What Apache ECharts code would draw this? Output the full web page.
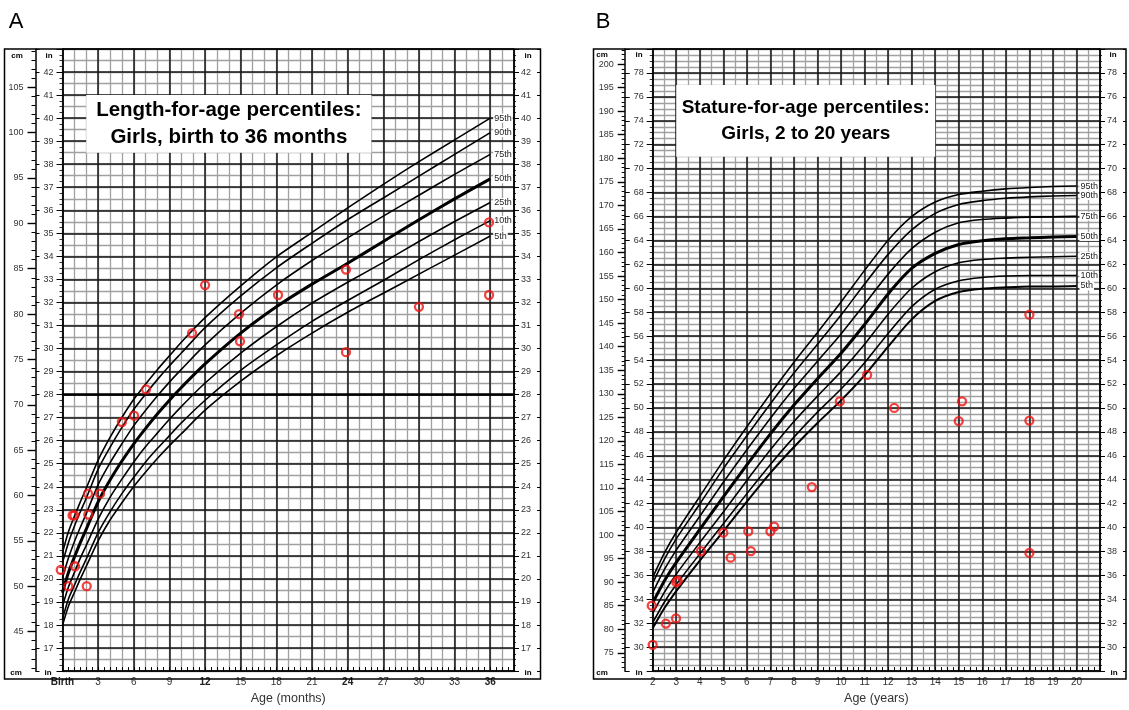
<!DOCTYPE html>
<html>
<head>
<meta charset="utf-8">
<script src="https://cdn.jsdelivr.net/npm/echarts@6/dist/echarts.min.js"></script>
<style>
  html, body { margin: 0; padding: 0; background: #fff; }
  #main { width: 1129px; height: 710px; }
</style>
</head>
<body>
<div id="main"></div>
<script>
const CM_PER_IN = 2.54

// --- A: length-for-age, girls, birth to 36 months (cm) ---
const ageA = [0, 0.5, 1, 1.5, 2, 3, 4, 5, 6, 7, 8, 9, 10, 12, 15, 18, 21, 24, 27, 30, 33, 36]
const p95A = [53.7, 56.0, 57.7, 59.3, 60.8, 63.9, 66.4, 68.6, 70.6, 72.3, 73.9, 75.4, 76.9, 79.6, 83.1, 86.3, 89.0, 91.7, 94.3, 96.8, 99.2, 101.6]
const p90A = [52.6, 54.8, 56.6, 58.2, 59.7, 62.9, 65.3, 67.5, 69.5, 71.2, 72.8, 74.3, 75.7, 78.5, 82.0, 85.1, 87.8, 90.4, 92.8, 95.2, 97.6, 100.0]
const p75A = [50.9, 53.1, 54.9, 56.5, 58.0, 61.2, 63.6, 65.7, 67.7, 69.4, 71.0, 72.5, 73.9, 76.6, 80.1, 83.2, 85.9, 88.4, 90.8, 93.1, 95.4, 97.6]
const p50A = [49.3, 51.5, 53.2, 54.8, 56.3, 59.3, 61.7, 63.8, 65.7, 67.4, 69.0, 70.5, 71.9, 74.5, 77.9, 80.8, 83.3, 85.6, 88.0, 90.4, 92.7, 94.9]
const p25A = [47.8, 49.9, 51.5, 53.1, 54.5, 57.4, 59.8, 61.8, 63.7, 65.4, 66.9, 68.4, 69.8, 72.4, 75.7, 78.6, 81.2, 83.5, 85.7, 88.0, 90.2, 92.3]
const p10A = [46.4, 48.6, 50.1, 51.6, 53.0, 55.9, 58.2, 60.2, 62.0, 63.7, 65.2, 66.6, 68.0, 70.5, 73.8, 76.6, 79.2, 81.5, 83.7, 86.0, 88.2, 90.3]
const p5A = [45.7, 47.8, 49.3, 50.8, 52.2, 55.0, 57.3, 59.2, 61.0, 62.6, 64.1, 65.5, 66.8, 69.4, 72.6, 75.4, 77.9, 80.2, 82.3, 84.4, 86.5, 88.6]
// measured children (red circles)
const ptAgeA = [-0.15, 0.49, 1.05, 0.85, 1.0, 2.04, 2.17, 2.15, 3.16, 5.0, 6.02, 7.03, 10.9, 12.0, 14.86, 14.94, 18.14, 23.86, 23.86, 30.0, 35.9, 35.9]
const ptCmA = [51.8, 50.0, 52.2, 57.8, 57.8, 50.0, 57.9, 60.2, 60.2, 68.1, 68.8, 71.7, 77.9, 83.2, 80.0, 77.0, 82.1, 84.9, 75.8, 80.8, 90.1, 82.1]
const xTicksA = [0, 3, 6, 9, 12, 15, 18, 21, 24, 27, 30, 33, 36]
const cmLabelsA = [45, 50, 55, 60, 65, 70, 75, 80, 85, 90, 95, 100, 105]
const inLabelsA = [17, 18, 19, 20, 21, 22, 23, 24, 25, 26, 27, 28, 29, 30, 31, 32, 33, 34, 35, 36, 37, 38, 39, 40, 41, 42]

// --- B: stature-for-age, girls, 2 to 20 years (cm) ---
const ageB = [2, 2.5, 3, 4, 5, 6, 7, 8, 9, 10, 11, 12, 13, 14, 15, 16, 17, 18, 19, 20]
const p95B = [91.0, 96.2, 100.6, 108.2, 115.8, 123.0, 130.0, 136.7, 143.0, 149.5, 156.2, 162.6, 167.6, 170.7, 172.3, 173.0, 173.5, 173.8, 174.0, 174.1]
const p90B = [89.8, 94.9, 99.2, 106.6, 114.1, 121.1, 127.9, 134.4, 140.5, 146.7, 153.3, 159.6, 164.8, 168.3, 170.2, 171.0, 171.5, 171.8, 172.0, 172.1]
const p75B = [87.8, 92.7, 96.8, 104.0, 111.2, 118.1, 124.8, 131.1, 136.9, 142.7, 149.0, 155.4, 160.8, 164.3, 166.3, 167.0, 167.3, 167.5, 167.6, 167.7]
const p50B = [85.6, 90.3, 94.2, 101.2, 108.1, 114.9, 121.5, 127.6, 133.2, 138.6, 144.7, 151.2, 156.6, 159.8, 161.7, 162.5, 162.9, 163.1, 163.3, 163.4]
const p25B = [83.4, 87.9, 91.7, 98.4, 104.9, 111.6, 118.1, 124.1, 129.5, 134.7, 140.5, 146.9, 152.4, 155.9, 157.8, 158.5, 158.8, 159.0, 159.1, 159.2]
const p10B = [81.4, 85.8, 89.5, 96.0, 102.4, 108.8, 115.0, 120.8, 126.1, 131.0, 136.6, 142.8, 148.5, 152.2, 154.0, 154.7, 155.0, 155.1, 155.1, 155.1]
const p5B = [80.2, 84.5, 88.1, 94.6, 100.8, 107.1, 113.2, 118.7, 123.8, 128.6, 133.9, 140.0, 145.8, 149.7, 151.6, 152.3, 152.6, 152.8, 152.8, 152.9]
const ptAgeB = [1.96, 2.0, 2.56, 2.99, 3.0, 3.06, 4.05, 5.0, 5.31, 6.06, 6.17, 7.0, 7.16, 8.76, 9.95, 11.11, 12.26, 15.0, 15.14, 18.0, 18.0, 18.0]
const ptCmB = [85.0, 76.7, 81.2, 82.3, 90.0, 90.3, 96.6, 100.5, 95.2, 100.8, 96.6, 100.8, 101.8, 110.2, 128.4, 134.0, 127.0, 124.2, 128.4, 146.8, 124.3, 96.2]
const xTicksB = [2, 3, 4, 5, 6, 7, 8, 9, 10, 11, 12, 13, 14, 15, 16, 17, 18, 19, 20]
const cmLabelsB = [75, 80, 85, 90, 95, 100, 105, 110, 115, 120, 125, 130, 135, 140, 145, 150, 155, 160, 165, 170, 175, 180, 185, 190, 195, 200]
const inLabelsB = [30, 32, 34, 36, 38, 40, 42, 44, 46, 48, 50, 52, 54, 56, 58, 60, 62, 64, 66, 68, 70, 72, 74, 76, 78]

const pctNames = ['95th', '90th', '75th', '50th', '25th', '10th', '5th']

const FONT = 'Liberation Sans, Arial, Helvetica, sans-serif'
const DARK = '#161616'
const GRAY = '#a0a0a0'

// every whole cm between two limits, for the small cm ticks
const cmRange = (lo, hi) => { const r = []; for (let v = lo; v <= hi; v++) r.push(v); return r }

// axis that only draws grid lines
const lineAxis = (gi, min, max, interval, color, width, z) => ({
	gridIndex: gi, type: 'value', min, max, interval, z,
	axisLine: { show: false, onZero: false }, axisTick: { show: false }, axisLabel: { show: false },
	splitLine: { show: true, lineStyle: { color, width } }
})
// axis that only draws ticks
const tickAxis = (gi, pos, min, max, interval, offset, length, inside) => ({
	gridIndex: gi, type: 'value', position: pos, min, max, interval, offset, z: 3,
	axisLine: { show: false, onZero: false },
	axisTick: { show: true, inside, length, lineStyle: { color: '#000', width: 1 } },
	axisLabel: { show: false }, splitLine: { show: false }
})

const labelStyle = { fontSize: 9, color: '#333', fontFamily: FONT }

// x axes
const xAxis = [
	// A main: labels + dark lines every 3 months
	{
		gridIndex: 0, type: 'value', min: 0, max: 38, interval: 3, z: 2,
		axisLine: { show: true, onZero: false, lineStyle: { color: '#000', width: 1.5 } },
		axisTick: { show: false },
		axisLabel: {
			customValues: xTicksA, margin: 6, fontSize: 10, color: '#333', fontFamily: FONT,
			formatter: v => v === 0 ? '{b|Birth}' : (v % 12 === 0 ? '{b|' + v + '}' : '' + v),
			rich: { b: { fontWeight: 'bold', fontSize: 10, color: '#222', fontFamily: FONT } }
		},
		splitLine: { show: true, lineStyle: { color: DARK, width: 1.5 } },
		name: 'Age (months)', nameLocation: 'middle', nameGap: 17,
		nameTextStyle: { fontSize: 12.5, color: '#333', fontFamily: FONT }
	},
	lineAxis(0, 0, 38, 1, GRAY, 1.3, 1),
	tickAxis(0, 'bottom', 0, 38, 0.5, 0, 4, true),
	// B main: labels + dark lines every year
	{
		gridIndex: 1, type: 'value', min: 2, max: 21, interval: 1, z: 2,
		axisLine: { show: true, onZero: false, lineStyle: { color: '#000', width: 1.5 } },
		axisTick: { show: false },
		axisLabel: { customValues: xTicksB, margin: 6, fontSize: 10, color: '#333', fontFamily: FONT },
		splitLine: { show: true, lineStyle: { color: DARK, width: 1.5 } },
		name: 'Age (years)', nameLocation: 'middle', nameGap: 17,
		nameTextStyle: { fontSize: 12.5, color: '#333', fontFamily: FONT }
	},
	lineAxis(1, 2, 21, 0.5, GRAY, 1.3, 1),
	tickAxis(1, 'bottom', 2, 21, 0.25, 0, 4, true)
]

// y axes
const cmAxis = (gi, lo, hi, offset, ticks, len, labels, margin, showLine) => ({
	gridIndex: gi, type: 'value', position: 'left', min: lo, max: hi, offset, z: 3,
	axisLine: { show: showLine, onZero: false, lineStyle: { color: '#000', width: 1.5 } },
	axisTick: { show: true, customValues: ticks, length: len, lineStyle: { color: '#000', width: labels ? 1.4 : 1 } },
	axisLabel: labels ? Object.assign({ customValues: labels, margin }, labelStyle) : { show: false },
	splitLine: { show: false }
})
const inAxis = (gi, pos, lo, hi, interval, labels, margin, tickLen, minorLen, dark) => ({
	gridIndex: gi, type: 'value', position: pos, min: lo, max: hi, interval, offset: 0, z: 2,
	axisLine: { show: true, onZero: false, lineStyle: { color: '#000', width: 1.5 } },
	axisTick: { show: true, length: tickLen, lineStyle: { color: '#000', width: 1 } },
	minorTick: { show: true, splitNumber: 4, length: minorLen, lineStyle: { color: '#000', width: 0.8 } },
	axisLabel: Object.assign({ customValues: labels, margin }, labelStyle),
	splitLine: { show: dark, lineStyle: { color: DARK, width: 1.5 } }
})

const yAxis = [
	// A (0..6)
	cmAxis(0, 16 * CM_PER_IN, 43 * CM_PER_IN, 27, cmRange(41, 109), 4, null, 0, true),
	cmAxis(0, 16 * CM_PER_IN, 43 * CM_PER_IN, 27, cmLabelsA, 8, cmLabelsA, 12, false),
	inAxis(0, 'left', 16, 43, 1, inLabelsA, 9, 6, 3, true),
	lineAxis(0, 16, 43, 0.5, GRAY, 1.3, 1),
	tickAxis(0, 'left', 16, 43, 1, 27, 4, true),
	inAxis(0, 'right', 16, 43, 1, inLabelsA, 7, 5, 2, false),
	tickAxis(0, 'right', 16, 43, 1, 26, 3, true),
	// B (7..13)
	cmAxis(1, 28 * CM_PER_IN, 80 * CM_PER_IN, 28, cmRange(72, 203), 3, null, 0, true),
	cmAxis(1, 28 * CM_PER_IN, 80 * CM_PER_IN, 28, cmLabelsB, 7, cmLabelsB, 11, false),
	inAxis(1, 'left', 28, 80, 2, inLabelsB, 9, 6, 3, true),
	lineAxis(1, 28, 80, 0.5, GRAY, 1.3, 1),
	tickAxis(1, 'left', 28, 80, 2, 28, 5, true),
	inAxis(1, 'right', 28, 80, 2, inLabelsB, 7, 5, 2, false),
	tickAxis(1, 'right', 28, 80, 2, 26, 3, true)
]

const pctSeries = (xi, yi, ages, vals, name, width) => ({
	type: 'line', name, xAxisIndex: xi, yAxisIndex: yi,
	data: ages.map((a, i) => [a, vals[i]]),
	smooth: 0.25, showSymbol: false, symbol: 'none', silent: true, z: 5,
	lineStyle: { color: '#000', width },
	endLabel: {
		show: true, formatter: name, distance: 3, fontSize: 9, color: '#222', fontFamily: FONT,
		backgroundColor: '#fff', padding: [0, 1]
	}
})
const pointSeries = (xi, yi, ages, cms) => ({
	type: 'scatter', xAxisIndex: xi, yAxisIndex: yi, clip: false, z: 6, silent: true,
	data: ages.map((a, i) => [a, cms[i]]),
	symbol: 'circle', symbolSize: 8,
	itemStyle: { color: 'rgba(255,255,255,0)', borderColor: '#f01313', borderWidth: 2.3 }
})
const titleBox = (x0, x1, y0, y1, text, size, lh) => ({
	silent: true, z: 4,
	itemStyle: { color: '#fff', borderWidth: 0, opacity: 1 },
	label: { show: true, position: 'inside', formatter: text, fontSize: size, lineHeight: lh, fontWeight: 'bold', color: '#000', fontFamily: FONT },
	data: [[{ xAxis: x0, yAxis: y0 }, { xAxis: x1, yAxis: y1 }]]
})

const pctA = [p95A, p90A, p75A, p50A, p25A, p10A, p5A]
const pctB = [p95B, p90B, p75B, p50B, p25B, p10B, p5B]
const series = []
pctA.forEach((vals, i) => series.push(pctSeries(0, 0, ageA, vals, pctNames[i], i === 3 ? 3 : 1.6)))
pctB.forEach((vals, i) => series.push(pctSeries(3, 7, ageB, vals, pctNames[i], i === 3 ? 3 : (i === 6 ? 2 : 1.6))))
// white title boxes + bold 28 in line on chart A
series[0].markArea = titleBox(2, 26, 38.5 * CM_PER_IN, 41 * CM_PER_IN, 'Length-for-age percentiles:\nGirls, birth to 36 months', 20.5, 27)
series[0].markLine = {
	silent: true, symbol: 'none', label: { show: false }, z: 4,
	lineStyle: { color: '#000', width: 2.6, type: 'solid' },
	data: [{ yAxis: 28 * CM_PER_IN }]
}
series[7].markArea = titleBox(3, 14, 71 * CM_PER_IN, 77 * CM_PER_IN, 'Stature-for-age percentiles:\nGirls, 2 to 20 years', 19, 26)
series.push(pointSeries(0, 0, ptAgeA, ptCmA))
series.push(pointSeries(3, 7, ptAgeB, ptCmB))

const txt = (x, y, text, font) => ({
	type: 'text', x, y, z: 20, silent: true,
	style: { text, font, fill: '#000', align: 'center', verticalAlign: 'middle' }
})
const small = 'bold 8px ' + FONT

const option = {
	animation: false,
	backgroundColor: '#fff',
	grid: [
		{ left: 62.5, top: 49, width: 451.5, height: 630 },
		{ left: 652.7, top: 49, width: 447.3, height: 630 }
	],
	xAxis,
	yAxis,
	series,
	graphic: [
		{ type: 'rect', z: 20, silent: true, shape: { x: 4.5, y: 49, width: 536, height: 630 }, style: { fill: 'none', stroke: '#000', lineWidth: 1.5 } },
		{ type: 'rect', z: 20, silent: true, shape: { x: 593.5, y: 49, width: 532.5, height: 630 }, style: { fill: 'none', stroke: '#000', lineWidth: 1.5 } },
		txt(16, 22, 'A', '22px ' + FONT),
		txt(603, 22, 'B', '22px ' + FONT),
		txt(17, 56, 'cm', small), txt(49, 56, 'in', small), txt(528, 56, 'in', small),
		txt(16, 673, 'cm', small), txt(48, 673, 'in', small), txt(528, 673, 'in', small),
		txt(602, 55, 'cm', small), txt(639, 55, 'in', small), txt(1113, 55, 'in', small),
		txt(602, 673, 'cm', small), txt(639, 673, 'in', small), txt(1114, 673, 'in', small)
	]
}

const chart = echarts.init(document.getElementById('main'))
chart.setOption(option)
</script>
</body>
</html>
